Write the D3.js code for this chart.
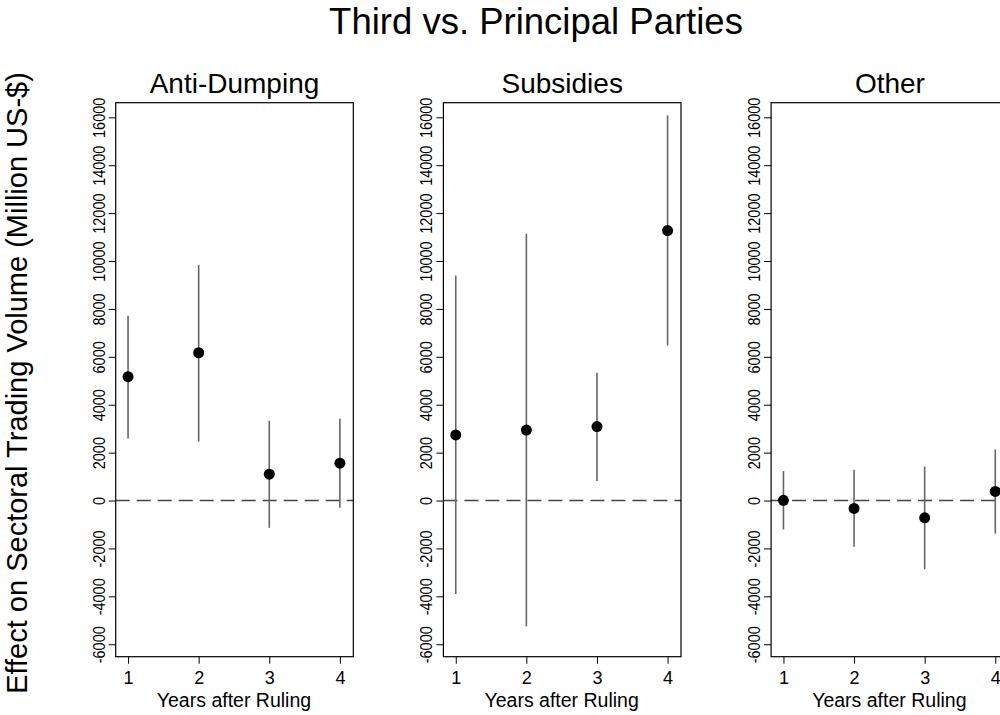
<!DOCTYPE html>
<html>
  <head>
    <title>Third vs. Principal Parties</title>
    <style>
      body { margin: 0; background: #fff; }
      text { font-family: 'Liberation Sans', Arial, Helvetica, sans-serif; fill: #000; }
    </style>
  </head>
  <body>
    <div><svg id='chart'/></div>
  </body>
  <script type="text/javascript" src="https://cdn.jsdelivr.net/npm/d3@7"></script>
  <script type="text/javascript">
    // data
    const panelNames = ['Anti-Dumping', 'Subsidies', 'Other'];
    const years = [1, 2, 3, 4];
    const yTicks = [-6000, -4000, -2000, 0, 2000, 4000, 6000, 8000, 10000, 12000, 14000, 16000];

    const adEst = [5170, 6170, 1100, 1560];
    const adLo = [2590, 2460, -1140, -300];
    const adHi = [7720, 9830, 3330, 3410];

    const subEst = [2740, 2940, 3090, 11270];
    const subLo = [-3900, -5250, 820, 6470];
    const subHi = [9400, 11140, 5330, 16080];

    const othEst = [10, -330, -720, 380];
    const othLo = [-1210, -1930, -2870, -1380];
    const othHi = [1230, 1290, 1420, 2130];

    const panelData = [
      { est: adEst, lo: adLo, hi: adHi },
      { est: subEst, lo: subLo, hi: subHi },
      { est: othEst, lo: othLo, hi: othHi }
    ];

    const [width, height] = [1000, 715];
    const svg = d3.select('#chart')
      .attr('width', width)
      .attr('height', height)

    // layout of each small plot
    const plotW = 237.6, plotTop = 102.7, plotBottom = 656.7;
    const firstLeft = 115.7, step = 327.7;
    const plotH = plotBottom - plotTop;

    const x = d3.scaleLinear().domain([0.825, 4.19]).range([0, plotW]);
    const y = d3.scaleLinear().domain([-6520, 16610]).range([plotH, 0]);

    // main title
    svg.append('text')
      .attr('x', 536)
      .attr('y', 34)
      .attr('text-anchor', 'middle')
      .style('font-size', '36.5px')
      .text('Third vs. Principal Parties')

    // y axis title
    svg.append('text')
      .attr('transform', 'translate(27, 383) rotate(-90)')
      .attr('text-anchor', 'middle')
      .style('font-size', '29px')
      .text('Effect on Sectoral Trading Volume (Million US-$)')

    panelNames.forEach(function(name, i) {
      const d = panelData[i];
      const g = svg.append('g')
        .attr('transform', 'translate(' + (firstLeft + i * step) + ',' + plotTop + ')')

      // panel title
      g.append('text')
        .attr('x', plotW / 2)
        .attr('y', -10)
        .attr('text-anchor', 'middle')
        .style('font-size', '28px')
        .text(name)

      // zero reference
      g.append('line')
        .attr('x1', 0)
        .attr('x2', plotW)
        .attr('y1', y(0))
        .attr('y2', y(0))
        .attr('stroke', '#444')
        .attr('stroke-width', 1.5)
        .attr('stroke-dasharray', '14,7')

      // y axis
      const yAxis = g.append('g')
        .call(d3.axisLeft(y).tickValues(yTicks).tickSize(7).tickFormat(function(v) { return String(v) }))
      yAxis.select('.domain').remove()
      yAxis.selectAll('line').attr('stroke', '#000')
      yAxis.selectAll('text')
        .attr('x', null)
        .attr('dy', null)
        .attr('y', 0)
        .attr('transform', 'translate(-11,0) rotate(-90) scale(1,1.12)')
        .attr('text-anchor', 'middle')
        .style('font-family', "'Liberation Sans', Arial, sans-serif")
        .style('font-size', '14.5px')

      // x axis
      const xAxis = g.append('g')
        .attr('transform', 'translate(0,' + plotH + ')')
        .call(d3.axisBottom(x).tickValues(years).tickSize(7).tickFormat(d3.format('d')))
      xAxis.select('.domain').remove()
      xAxis.selectAll('line').attr('stroke', '#000')
      xAxis.selectAll('text')
        .attr('y', 27)
        .attr('dy', null)
        .style('font-family', "'Liberation Sans', Arial, sans-serif")
        .style('font-size', '18px')

      g.append('text')
        .attr('x', x(2.5))
        .attr('y', plotH + 50)
        .attr('text-anchor', 'middle')
        .style('font-size', '19.5px')
        .text('Years after Ruling')

      // frame
      g.append('rect')
        .attr('width', plotW)
        .attr('height', plotH)
        .attr('fill', 'none')
        .attr('stroke', '#000')
        .attr('stroke-width', 1.2)

      // intervals
      g.append('g')
        .selectAll('line')
        .data(years)
        .enter()
        .append('line')
        .attr('x1', function(v) { return x(v) })
        .attr('x2', function(v) { return x(v) })
        .attr('y1', function(v, j) { return y(d.lo[j]) })
        .attr('y2', function(v, j) { return y(d.hi[j]) })
        .attr('stroke', '#666')
        .attr('stroke-width', 1.6)

      // point estimates
      g.append('g')
        .selectAll('circle')
        .data(years)
        .enter()
        .append('circle')
        .attr('cx', function(v) { return x(v) })
        .attr('cy', function(v, j) { return y(d.est[j]) })
        .attr('r', 5.5)
        .attr('fill', '#000')
    })
  </script>
</html>
